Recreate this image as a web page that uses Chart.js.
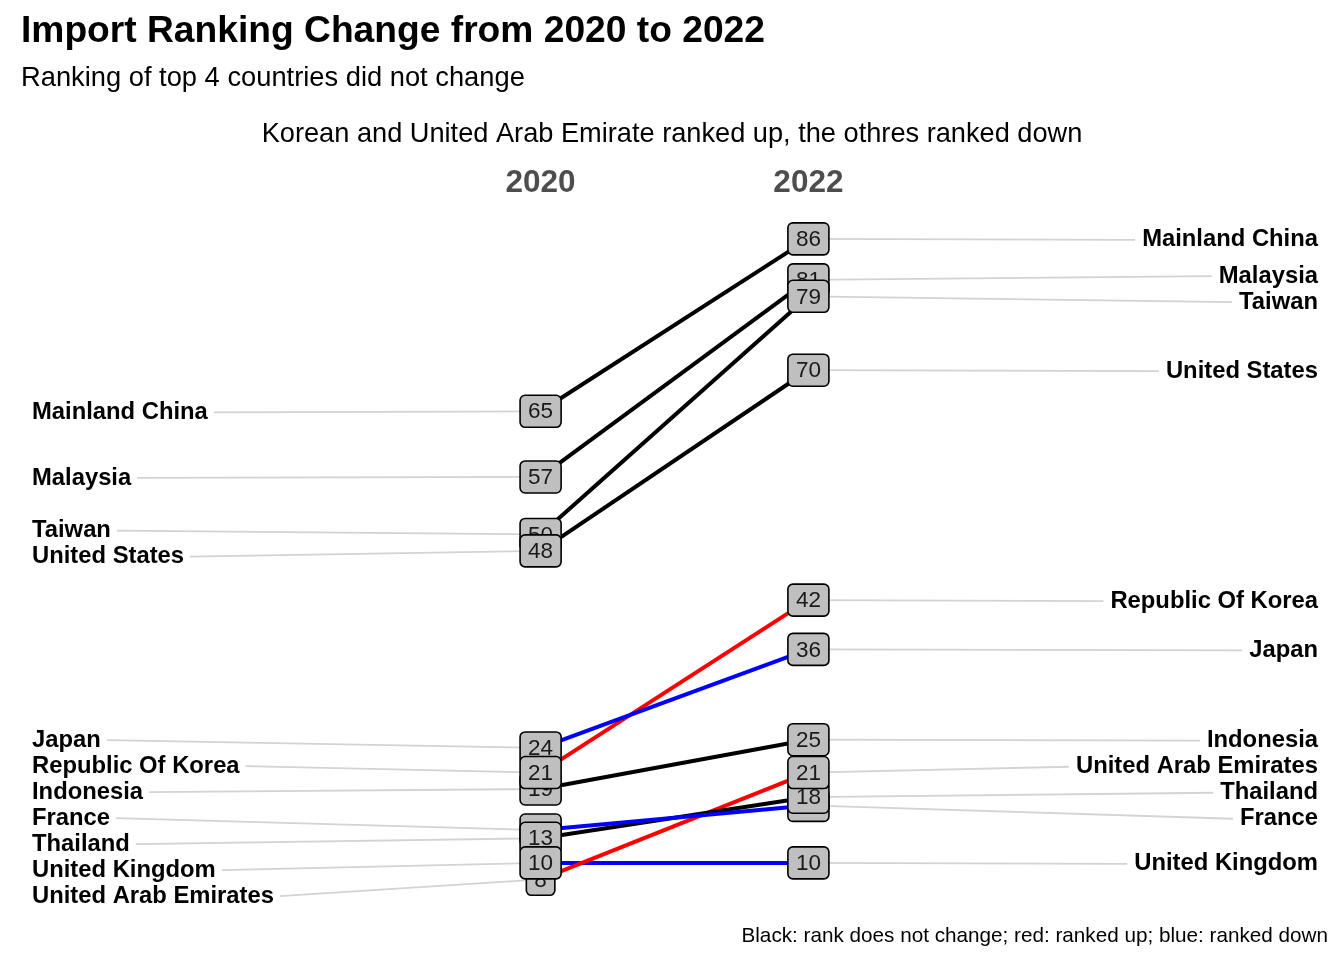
<!DOCTYPE html>
<html>
<head>
<meta charset="utf-8">
<script src="https://cdn.jsdelivr.net/npm/chart.js@4"></script>
<style>
html, body { margin: 0; padding: 0; background: #fff; }
#wrap { width: 1344px; height: 960px; position: relative; }
</style>
</head>
<body>
<div id="wrap"><canvas id="chart"></canvas></div>
<script>
const countries = ['France', 'Indonesia', 'Japan', 'Mainland China', 'Malaysia', 'Republic Of Korea',
    'Taiwan', 'Thailand', 'United Arab Emirates', 'United Kingdom', 'United States'];
const values2020 = [14, 19, 24, 65, 57, 21, 50, 13, 8, 10, 48];
const values2022 = [17, 25, 36, 86, 81, 42, 79, 18, 21, 10, 70];
const years = [2020, 2022];

const FONT = '"Liberation Sans", Arial, sans-serif';

// rank of each country within a year (1 = largest)
function ranks(vals) {
    return vals.map(v => vals.filter(o => o > v).length + 1);
}
const rank2020 = ranks(values2020);
const rank2022 = ranks(values2022);

function lineColor(i) {
    if (rank2022[i] < rank2020[i]) return '#ff0000';
    if (rank2022[i] > rank2020[i]) return '#0000ff';
    return '#000000';
}

const datasets = countries.map((name, i) => ({
    label: name,
    data: [{ x: years[0], y: values2020[i] }, { x: years[1], y: values2022[i] }],
    borderColor: lineColor(i),
    borderWidth: 4,
    pointRadius: 0,
    tension: 0
}));

// push overlapping labels apart, keeping each cluster centred on its points
function repel(ys, gap) {
    const idx = ys.map((y, i) => i).sort((a, b) => ys[a] - ys[b]);
    let clusters = idx.map(i => ({ members: [i], center: ys[i] }));
    let changed = true;
    while (changed) {
        changed = false;
        for (let k = 0; k < clusters.length - 1; k++) {
            const a = clusters[k], b = clusters[k + 1];
            const aBottom = a.center + (a.members.length - 1) / 2 * gap;
            const bTop = b.center - (b.members.length - 1) / 2 * gap;
            if (bTop - aBottom < gap) {
                const members = a.members.concat(b.members);
                const center = members.reduce((s, m) => s + ys[m], 0) / members.length;
                clusters.splice(k, 2, { members, center });
                changed = true;
                break;
            }
        }
    }
    const out = [];
    clusters.forEach(c => c.members.forEach((m, j) => {
        out[m] = c.center + (j - (c.members.length - 1) / 2) * gap;
    }));
    return out;
}

const labelFont = 'bold 23.8px ' + FONT;
const leftX = 32;
const rightX = 1318;

function layout(chart) {
    const xs = chart.scales.x, ys = chart.scales.y;
    const x0 = xs.getPixelForValue(years[0]);
    const x1 = xs.getPixelForValue(years[1]);
    const p0 = values2020.map(v => ys.getPixelForValue(v));
    const p1 = values2022.map(v => ys.getPixelForValue(v));
    return { x0, x1, p0, p1, l0: repel(p0, 26), l1: repel(p1, 26) };
}

const slopeLabels = {
    id: 'slopeLabels',
    beforeDatasetsDraw(chart) {
        const ctx = chart.ctx;
        const L = layout(chart);
        ctx.save();
        ctx.font = labelFont;
        ctx.strokeStyle = '#d3d3d3';
        ctx.lineWidth = 1.8;
        countries.forEach((name, i) => {
            const w = ctx.measureText(name).width;
            ctx.beginPath();
            ctx.moveTo(leftX + w + 6, L.l0[i] + 1);
            ctx.lineTo(L.x0, L.p0[i]);
            ctx.stroke();
            ctx.beginPath();
            ctx.moveTo(L.x1, L.p1[i]);
            ctx.lineTo(rightX - w - 7, L.l1[i] + 1);
            ctx.stroke();
        });
        ctx.restore();
    },
    afterDatasetsDraw(chart) {
        const ctx = chart.ctx;
        const L = layout(chart);
        ctx.save();
        ctx.font = '22.5px ' + FONT;
        ctx.textAlign = 'center';
        ctx.textBaseline = 'middle';
        const box = (x, y, txt) => {
            const w = ctx.measureText(txt).width + 16;
            const h = 32;
            ctx.beginPath();
            ctx.roundRect(x - w / 2, y - h / 2, w, h, 5);
            ctx.fillStyle = '#bfbfbf';
            ctx.fill();
            ctx.lineWidth = 1.6;
            ctx.strokeStyle = '#000';
            ctx.stroke();
            ctx.fillStyle = '#1a1a1a';
            ctx.fillText(txt, x, y + 1);
        };
        countries.forEach((name, i) => {
            box(L.x0, L.p0[i], String(values2020[i]));
            box(L.x1, L.p1[i], String(values2022[i]));
        });

        // country names
        ctx.font = labelFont;
        ctx.fillStyle = '#000';
        countries.forEach((name, i) => {
            ctx.textAlign = 'left';
            ctx.fillText(name, leftX, L.l0[i] + 1);
            ctx.textAlign = 'right';
            ctx.fillText(name, rightX, L.l1[i] + 1);
        });

        // column headers
        ctx.font = 'bold 31.5px ' + FONT;
        ctx.fillStyle = '#4d4d4d';
        ctx.textAlign = 'center';
        ctx.fillText(String(years[0]), L.x0, 183);
        ctx.fillText(String(years[1]), L.x1, 183);

        // titles
        ctx.fillStyle = '#000';
        ctx.textAlign = 'left';
        ctx.font = 'bold 37.2px ' + FONT;
        ctx.fillText('Import Ranking Change from 2020 to 2022', 21, 32);
        ctx.font = '27.3px ' + FONT;
        ctx.fillText('Ranking of top 4 countries did not change', 21, 78);
        ctx.textAlign = 'center';
        ctx.font = '27.2px ' + FONT;
        ctx.fillText('Korean and United Arab Emirate ranked up, the othres ranked down', 672, 135);
        ctx.textAlign = 'right';
        ctx.font = '20.7px ' + FONT;
        ctx.fillText('Black: rank does not change; red: ranked up; blue: ranked down', 1328, 936);
        ctx.restore();
    }
};

const ctx = document.getElementById('chart').getContext('2d');

const myChart = new Chart(ctx, { // eslint-disable-line
    type: 'line',
    data: { datasets },
    options: {
        responsive: true,
        maintainAspectRatio: false,
        animation: false,
        devicePixelRatio: 1,
        layout: { padding: { left: 5, right: 0, top: 206, bottom: 15 } },
        scales: {
            x: { type: 'linear', min: 2016, max: 2026, display: false },
            y: { min: 0, max: 90, display: false }
        },
        plugins: {
            legend: { display: false },
            tooltip: { enabled: false }
        }
    },
    plugins: [slopeLabels]
});
</script>
</body>
</html>
